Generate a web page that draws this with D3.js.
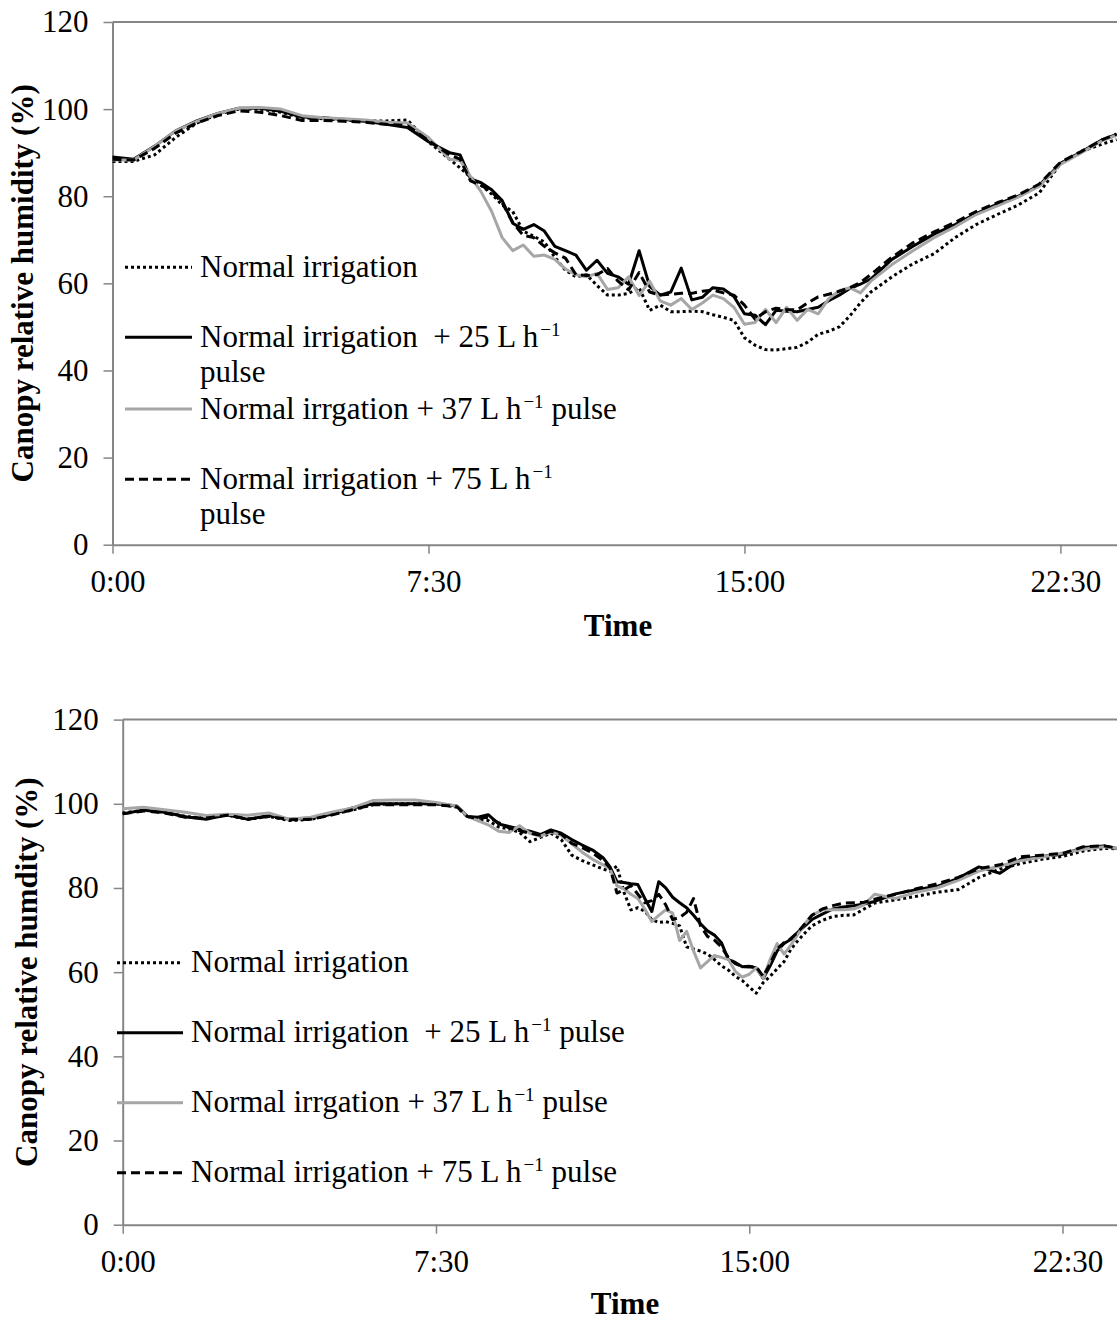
<!DOCTYPE html>
<html><head><meta charset="utf-8">
<script src="https://cdn.jsdelivr.net/npm/d3@7"></script>
<style>body{margin:0;background:#fff}</style>
</head><body><svg id="c" width="1117" height="1320"></svg>
<script>
// ---------------- DATA ----------------
const xTickValues = [0, 7.5, 15, 22.5];
const xTickLabels = ["0:00", "7:30", "15:00", "22:30"];
const yTickValues = [0, 20, 40, 60, 80, 100, 120];
const xTitle = "Time";
const yTitleTop = "Canopy relative humidity (%)";
const yTitleBottom = "Canopy relative humdity (%)";

// legend labels: [before superscript, superscript, after superscript]
const legendTop = [
  ["Normal irrigation", "", ""],
  ["Normal irrigation\u00a0\u00a0+ 25 L h", "\u22121", "|pulse"],
  ["Normal irrgation + 37 L h", "\u22121", " pulse"],
  ["Normal irrigation + 75 L h", "\u22121", "|pulse"]
];
const legendBottom = [
  ["Normal irrigation", "", ""],
  ["Normal irrigation\u00a0\u00a0+ 25 L h", "\u22121", " pulse"],
  ["Normal irrgation + 37 L h", "\u22121", " pulse"],
  ["Normal irrigation + 75 L h", "\u22121", " pulse"]
];

const timesTop = ["0:00","0:30","1:00","1:30","2:00","2:30","3:00","3:30","4:00","4:30","5:00","5:30","6:00","6:30","7:00","7:30","8:00",
 "8:15","8:30","8:45","9:00","9:15","9:30","9:45","10:00","10:15","10:30","10:45","11:00","11:15","11:30","11:45","12:00","12:15","12:30","12:45",
 "13:00","13:15","13:30","13:45","14:00","14:15","14:30","14:45","15:00","15:15","15:30","15:45","16:00","16:15","16:30","16:45","17:00","17:15","17:30","17:45","18:00",
 "18:30","19:00","19:30","20:00","20:30","21:00","21:30","22:00","22:30","23:00","23:30","23:50"];

const topNormal = [88.0,88.0,89.5,93.5,96.8,98.8,100.0,100.0,99.3,98.0,97.8,97.5,97.3,97.3,97.5,92.5,88.5,
 86.5,84.3,82.5,80.5,78.0,76.5,72.0,70.8,69.5,66.0,63.0,61.5,62.0,59.5,57.3,57.3,57.7,59.0,53.8,
 55.0,53.5,53.5,53.6,53.5,52.8,52.2,51.5,47.5,45.8,44.8,44.7,45.0,45.3,46.5,48.3,49.0,50.0,52.5,55.5,58.0,
 61.5,64.5,66.8,70.5,73.5,75.8,78.0,80.8,87.5,90.3,92.0,93.0];
const topP25 = [89.0,88.5,91.5,95.0,97.3,99.0,100.2,100.2,99.5,98.2,98.0,97.6,97.2,96.5,95.8,92.5,90.0,
 89.5,84.0,83.1,81.5,79.0,73.8,72.4,73.5,72.0,68.5,67.5,66.5,63.0,65.3,62.3,61.5,59.8,67.5,59.3,
 57.3,58.0,63.5,56.2,56.8,59.0,58.7,57.0,53.0,52.7,50.5,53.8,53.6,53.5,54.0,54.5,56.0,57.3,58.8,59.8,61.0,
 65.5,68.5,71.3,73.5,76.0,78.2,80.0,82.5,87.5,90.2,93.0,94.2];
const topP37 = [88.3,88.3,91.5,95.0,97.2,99.0,100.2,100.4,100.0,98.5,98.0,97.8,97.5,97.0,96.8,93.5,88.5,
 88.2,84.5,81.0,76.5,70.5,67.5,68.8,66.2,66.5,65.5,63.3,62.0,61.5,62.3,58.6,59.0,61.5,57.2,60.5,
 56.0,55.0,56.5,54.0,55.5,57.3,56.5,54.5,50.6,51.0,54.0,51.0,54.5,51.5,54.0,53.0,56.5,58.3,59.0,57.8,60.5,
 64.3,67.5,70.5,73.0,75.8,77.8,79.8,82.3,87.3,90.0,92.8,94.0];
const topP75 = [88.5,88.3,91.0,94.5,96.8,98.5,99.6,99.3,98.5,97.4,97.4,97.2,97.0,96.5,96.2,92.8,89.5,
 88.5,83.5,82.5,81.0,78.5,74.0,71.0,70.5,68.5,67.0,65.8,62.0,61.8,62.0,63.4,60.5,58.5,62.5,58.0,
 57.3,57.5,57.7,57.7,58.2,58.5,57.8,57.3,55.0,51.8,53.5,54.3,54.0,53.9,55.5,56.9,57.5,58.2,59.0,60.2,62.0,
 66.0,69.3,71.8,74.0,76.5,78.5,80.3,82.8,87.8,90.3,93.0,94.3];

const timesBottom = ["0:00","0:30","1:00","1:30","2:00","2:30","3:00","3:30","4:00","4:30","5:00","5:30","6:00","6:30","7:00","7:30","8:00",
 "8:15","8:30","8:45","9:00","9:15","9:30","9:45","10:00","10:15","10:30","10:45","11:00","11:15","11:30",
 "11:40","11:50","12:00","12:10","12:20","12:30","12:40","12:50","13:00","13:10","13:20","13:30","13:40","13:50",
 "14:00","14:10","14:20","14:30","14:40","14:50","15:00","15:10","15:20","15:30","15:40","15:50","16:00","16:10","16:20","16:30",
 "16:45","17:00","17:15","17:30","17:45","18:00",
 "18:30","19:00","19:30","20:00","20:30","21:00","21:30","22:00","22:30","23:00","23:30","23:50"];

const bottomNormal = [97.8,98.5,98.0,97.0,96.5,97.3,96.3,97.0,96.0,96.3,97.5,98.5,99.8,100.0,100.0,100.0,99.2,
 97.0,96.2,96.0,94.5,94.0,93.2,91.0,92.0,93.0,91.5,87.8,86.5,85.5,84.5,
 84.0,85.2,79.0,74.8,75.3,74.5,72.5,71.8,72.0,71.6,71.0,66.0,65.5,65.0,
 64.3,63.0,61.5,60.5,59.0,58.0,56.5,55.0,57.5,59.0,60.8,62.5,65.5,67.5,69.3,71.0,
 72.3,73.2,73.5,73.6,75.0,76.4,
 77.2,78.0,79.0,79.6,82.5,84.5,85.8,86.8,87.5,88.8,89.4,89.3];
const bottomP25 = [97.6,98.5,98.0,96.9,96.3,97.4,96.3,97.2,96.3,96.6,97.5,99.0,100.0,100.0,100.0,100.0,99.5,
 97.0,96.8,97.4,95.2,94.6,94.0,93.5,92.7,93.8,93.0,91.5,90.2,89.0,87.2,
 85.0,81.5,81.3,81.0,80.8,77.5,74.4,81.5,80.0,77.8,76.5,75.3,73.5,71.5,
 69.8,68.8,67.0,63.0,62.3,61.3,61.4,61.0,58.5,61.5,65.0,66.8,67.8,69.5,71.0,72.5,
 73.8,75.0,75.5,75.8,76.2,76.8,
 78.6,79.6,80.4,82.3,85.0,83.5,86.8,87.5,88.0,89.6,90.0,89.3];
const bottomP37 = [98.8,99.2,98.6,98.0,97.2,97.5,97.3,97.8,96.3,96.8,98.0,99.0,100.8,100.9,100.9,100.3,99.5,
 97.0,96.0,95.0,93.5,93.2,94.8,93.0,92.3,93.3,92.5,90.5,88.5,86.8,85.5,
 84.5,80.5,79.8,78.5,77.5,75.0,72.0,73.5,74.8,74.0,67.5,69.7,65.0,61.0,
 62.5,64.0,63.5,63.0,60.2,58.8,59.5,61.0,58.5,63.0,66.8,64.3,66.5,69.0,71.5,73.5,
 74.8,74.8,74.8,75.0,76.0,78.5,
 77.5,79.0,80.0,81.8,84.0,85.2,86.5,87.3,88.3,89.2,89.8,89.4];
const bottomP75 = [97.6,98.3,97.8,96.8,96.6,97.3,96.4,97.0,96.2,96.3,97.3,98.6,99.8,99.8,99.8,99.8,99.3,
 97.0,96.5,96.8,95.5,94.3,93.6,93.0,92.5,93.5,92.8,90.6,89.6,88.3,86.5,
 84.8,78.8,79.5,80.6,78.5,76.5,77.0,78.5,76.0,72.5,73.0,74.2,77.5,71.0,
 68.5,67.6,66.0,63.5,62.0,61.3,61.2,61.3,59.0,62.0,65.5,67.0,68.0,69.5,71.5,73.5,
 75.0,75.8,76.4,76.5,76.6,77.3,
 78.5,79.8,81.0,82.5,84.6,85.5,87.4,87.8,88.2,89.8,90.0,89.4];

// ---------------- STYLE / LAYOUT ----------------
const FONT = "'Liberation Serif','Times New Roman',serif";
const FS = 31;
const AXIS_COLOR = "#868686";
const seriesStyles = [
  {color: "#000", dash: "3,3", width: 3},
  {color: "#000", dash: null, width: 3},
  {color: "#a6a6a6", dash: null, width: 3},
  {color: "#000", dash: "9,5", width: 3}
];

const charts = [
  {times: timesTop, series: [topNormal, topP25, topP37, topP75], left: 112.5, top: 22, bottom: 544.7, pxPerHour: 42.13,
   yTitle: yTitleTop, yTitleX: 33, timeX: 618, timeY: 636,
   legend: legendTop, lx1: 125, lx2: 192, ltx: 200, lys: [267.3, 337.3, 409, 479.3]},
  {times: timesBottom, series: [bottomNormal, bottomP25, bottomP37, bottomP75], left: 122.7, top: 719.6, bottom: 1224.7, pxPerHour: 41.77,
   yTitle: yTitleBottom, yTitleX: 37, timeX: 625, timeY: 1314,
   legend: legendBottom, lx1: 117, lx2: 183, ltx: 191, lys: [962.7, 1032.7, 1102.7, 1172.7]}
];

const svg = d3.select("#c");
const parseT = s => { const [h, m] = s.split(":").map(Number); return h + m / 60; };

charts.forEach(c => {
  const x = d3.scaleLinear().domain([0, 24]).range([c.left, c.left + 24 * c.pxPerHour]);
  const y = d3.scaleLinear().domain([0, 120]).range([c.bottom, c.top]);
  const g = svg.append("g");

  // top border of plot area
  g.append("line").attr("x1", c.left).attr("x2", 1117).attr("y1", y(120)).attr("y2", y(120))
    .attr("stroke", AXIS_COLOR).attr("stroke-width", 2);

  // y axis
  const ya = g.append("g").attr("transform", `translate(${c.left},0)`)
    .call(d3.axisLeft(y).tickValues(yTickValues).tickSize(9).tickSizeOuter(0).tickPadding(15));
  // x axis
  const xa = g.append("g").attr("transform", `translate(0,${c.bottom})`)
    .call(d3.axisBottom(x).tickValues(xTickValues).tickFormat((d, i) => xTickLabels[i]).tickSize(9).tickSizeOuter(0).tickPadding(16));
  [ya, xa].forEach(a => {
    a.select(".domain").attr("stroke", AXIS_COLOR).attr("stroke-width", 2);
    a.selectAll(".tick line").attr("stroke", AXIS_COLOR).attr("stroke-width", 1.5);
    a.selectAll("text").attr("font-family", FONT).attr("font-size", FS).attr("fill", "#000");
  });
  xa.selectAll(".tick text").attr("dx", 5);

  // series lines
  const ts = c.times.map(parseT);
  const line = d3.line().x(d => x(d[0])).y(d => y(d[1]));
  c.series.forEach((vals, i) => {
    const st = seriesStyles[i];
    g.append("path").datum(ts.map((t, k) => [t, vals[k]]))
      .attr("d", line).attr("fill", "none").attr("stroke", st.color).attr("stroke-width", st.width)
      .attr("stroke-dasharray", st.dash).attr("stroke-linejoin", "round");
  });

  // legend
  c.legend.forEach((lab, i) => {
    const st = seriesStyles[i];
    const ly = c.lys[i];
    g.append("line").attr("x1", c.lx1).attr("x2", c.lx2).attr("y1", ly).attr("y2", ly)
      .attr("stroke", st.color).attr("stroke-width", st.width).attr("stroke-dasharray", st.dash);
    const t = g.append("text").attr("x", c.ltx).attr("y", ly + 9.5)
      .attr("font-family", FONT).attr("font-size", FS).attr("fill", "#000");
    t.append("tspan").text(lab[0]);
    if (lab[1]) {
      t.append("tspan").attr("font-size", 19).attr("dy", -11).attr("dx", 2).text(lab[1]);
      if (lab[2].startsWith("|")) {
        t.append("tspan").attr("x", c.ltx).attr("dy", 11 + 35).text(lab[2].slice(1));
      } else {
        t.append("tspan").attr("dy", 11).text(lab[2]);
      }
    }
  });

  // axis titles
  g.append("text").attr("x", c.timeX).attr("y", c.timeY).attr("text-anchor", "middle")
    .attr("font-family", FONT).attr("font-size", FS).attr("font-weight", "bold").text(xTitle);
  g.append("text").attr("transform", `translate(${c.yTitleX},${(c.top + c.bottom) / 2}) rotate(-90)`)
    .attr("text-anchor", "middle").attr("font-family", FONT).attr("font-size", FS).attr("font-weight", "bold")
    .text(c.yTitle);
});
</script>
</body></html>
